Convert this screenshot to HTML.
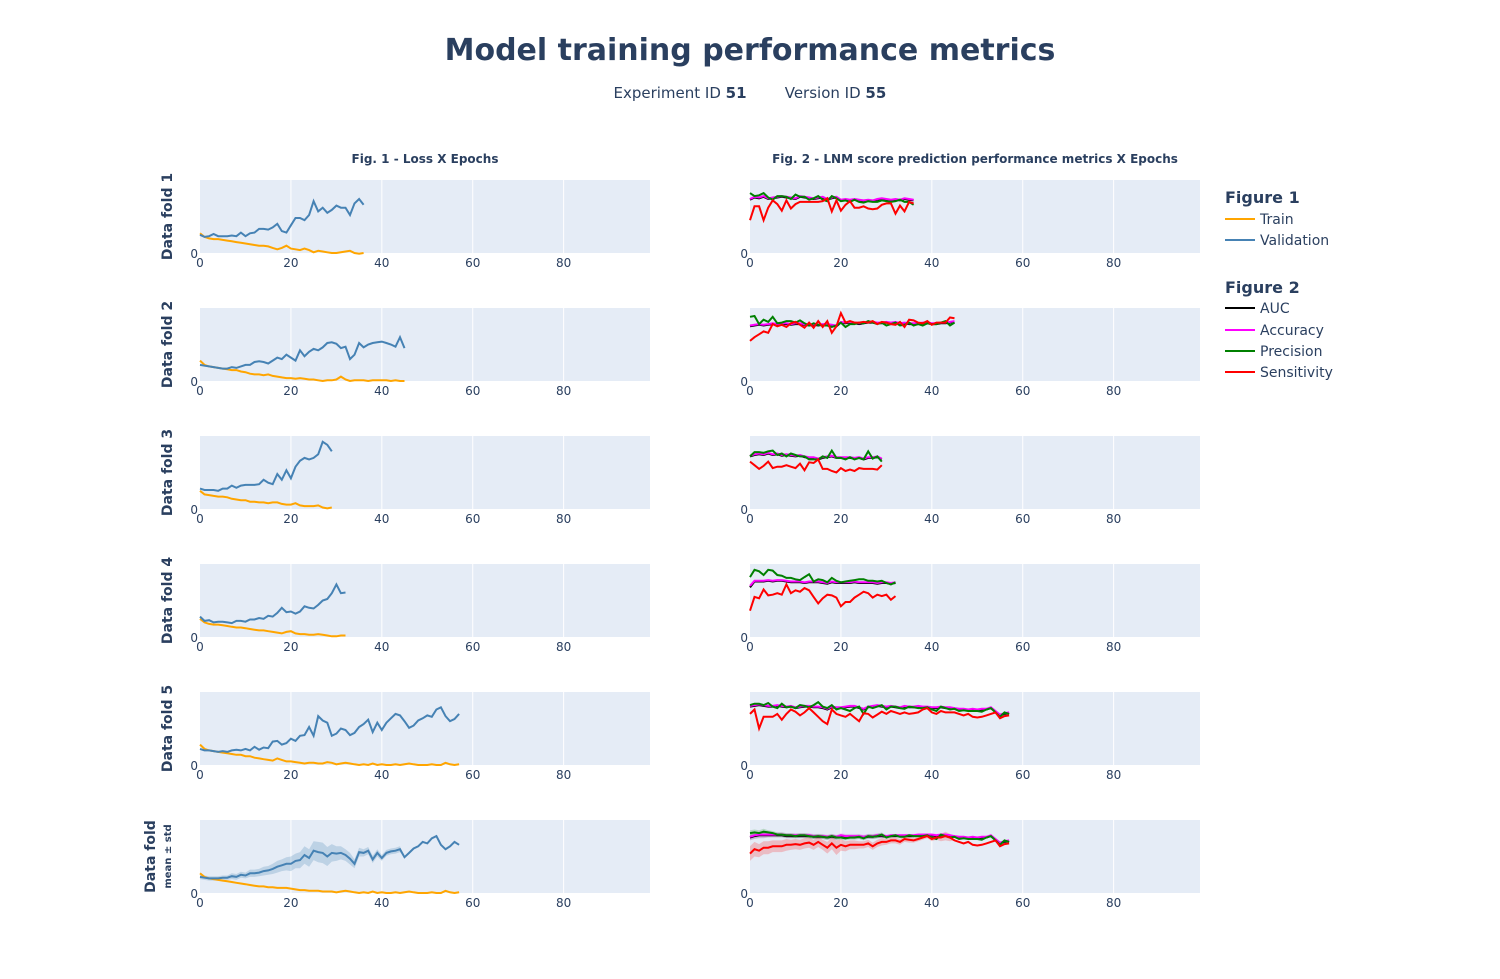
<!DOCTYPE html>
<html><head><meta charset="utf-8"><style>
body{margin:0;background:#fff;font-family:"DejaVu Sans",sans-serif;}
svg text{fill:#2a3f5f;}
</style></head><body>
<svg id="chart" width="1500" height="975" xmlns="http://www.w3.org/2000/svg" font-family="DejaVu Sans, sans-serif">
<text x="750" y="60" text-anchor="middle" font-size="30" font-weight="bold">Model training performance metrics</text>
<text x="680" y="98" text-anchor="middle" font-size="15">Experiment ID <tspan font-weight="bold">51</tspan></text>
<text x="835.5" y="98" text-anchor="middle" font-size="15">Version ID <tspan font-weight="bold">55</tspan></text>
<text x="425" y="163" text-anchor="middle" font-size="12" font-weight="bold">Fig. 1 - Loss X Epochs</text>
<text x="975" y="163" text-anchor="middle" font-size="12" font-weight="bold">Fig. 2 - LNM score prediction performance metrics X Epochs</text>
<g id="plots"></g>
<g font-size="14">
<text x="1225" y="203" font-size="16" font-weight="bold">Figure 1</text>
<line x1="1225" y1="219" x2="1255" y2="219" stroke="#FFA500" stroke-width="2"/><text x="1260" y="224">Train</text>
<line x1="1225" y1="240" x2="1255" y2="240" stroke="#4682B4" stroke-width="2"/><text x="1260" y="245">Validation</text>
<text x="1225" y="293" font-size="16" font-weight="bold">Figure 2</text>
<line x1="1225" y1="308" x2="1255" y2="308" stroke="#000" stroke-width="2"/><text x="1260" y="313">AUC</text>
<line x1="1225" y1="330" x2="1255" y2="330" stroke="#FF00FF" stroke-width="2"/><text x="1260" y="335">Accuracy</text>
<line x1="1225" y1="351" x2="1255" y2="351" stroke="#008000" stroke-width="2"/><text x="1260" y="356">Precision</text>
<line x1="1225" y1="372" x2="1255" y2="372" stroke="#FF0000" stroke-width="2"/><text x="1260" y="377">Sensitivity</text>
</g>
</svg>
<script>
const xTicks=[0,20,40,60,80];
const rowLabels=["Data fold 1","Data fold 2","Data fold 3","Data fold 4","Data fold 5","Data fold"];
const trainLoss=[
[0.27,0.22,0.20,0.19,0.19,0.18,0.17,0.16,0.15,0.14,0.13,0.12,0.11,0.10,0.10,0.09,0.07,0.05,0.07,0.10,0.06,0.05,0.04,0.06,0.04,0.01,0.03,0.02,0.01,0.0,0.0,0.01,0.02,0.03,0.0,-0.01,0.0],
[0.28,0.22,0.20,0.19,0.18,0.17,0.16,0.15,0.15,0.13,0.12,0.10,0.09,0.09,0.08,0.09,0.07,0.06,0.05,0.04,0.04,0.03,0.04,0.03,0.02,0.02,0.01,0.00,0.01,0.01,0.02,0.06,0.02,0.00,0.01,0.01,0.01,0.00,0.01,0.01,0.01,0.01,0.00,0.01,0.00,0.00],
[0.25,0.20,0.19,0.18,0.17,0.17,0.16,0.14,0.13,0.12,0.12,0.10,0.10,0.09,0.09,0.08,0.09,0.09,0.07,0.06,0.06,0.08,0.05,0.04,0.04,0.04,0.05,0.02,0.01,0.02],
[0.25,0.20,0.18,0.17,0.17,0.16,0.15,0.14,0.13,0.13,0.12,0.11,0.10,0.09,0.09,0.08,0.07,0.06,0.05,0.07,0.08,0.05,0.04,0.04,0.03,0.03,0.04,0.03,0.02,0.01,0.01,0.02,0.02],
[0.28,0.22,0.20,0.19,0.18,0.17,0.16,0.15,0.14,0.14,0.12,0.12,0.10,0.09,0.08,0.07,0.06,0.09,0.07,0.05,0.05,0.04,0.03,0.02,0.03,0.03,0.02,0.02,0.04,0.03,0.01,0.02,0.03,0.02,0.01,0.00,0.01,0.00,0.02,0.00,0.01,0.00,0.00,0.01,0.00,0.01,0.02,0.01,0.00,0.00,0.00,0.01,0.00,0.00,0.03,0.01,0.00,0.01],
[0.27,0.22,0.20,0.19,0.18,0.17,0.16,0.15,0.14,0.13,0.12,0.11,0.10,0.09,0.09,0.08,0.08,0.07,0.07,0.07,0.06,0.05,0.04,0.04,0.03,0.03,0.03,0.02,0.02,0.02,0.01,0.02,0.03,0.02,0.01,0.00,0.01,0.00,0.02,0.00,0.01,0.00,0.00,0.01,0.00,0.01,0.02,0.01,0.00,0.00,0.00,0.01,0.00,0.00,0.03,0.01,0.00,0.01]];
const valLoss=[
[0.25,0.22,0.23,0.26,0.23,0.23,0.23,0.24,0.23,0.28,0.23,0.27,0.28,0.33,0.33,0.32,0.35,0.40,0.30,0.28,0.38,0.48,0.48,0.45,0.52,0.71,0.57,0.62,0.55,0.59,0.65,0.62,0.62,0.52,0.68,0.74,0.66],
[0.22,0.21,0.20,0.19,0.18,0.17,0.17,0.19,0.18,0.20,0.22,0.22,0.26,0.27,0.26,0.24,0.28,0.32,0.30,0.36,0.32,0.28,0.42,0.34,0.40,0.44,0.42,0.46,0.52,0.53,0.51,0.45,0.47,0.30,0.36,0.52,0.46,0.50,0.52,0.53,0.54,0.52,0.50,0.47,0.60,0.45],
[0.28,0.26,0.26,0.26,0.25,0.28,0.28,0.32,0.29,0.32,0.33,0.33,0.33,0.34,0.40,0.36,0.34,0.48,0.40,0.53,0.42,0.58,0.66,0.70,0.68,0.70,0.75,0.92,0.88,0.79],
[0.28,0.22,0.23,0.20,0.21,0.21,0.20,0.19,0.22,0.22,0.21,0.24,0.24,0.26,0.25,0.29,0.28,0.33,0.40,0.34,0.35,0.32,0.35,0.42,0.40,0.39,0.44,0.50,0.52,0.60,0.72,0.60,0.61],
[0.22,0.20,0.20,0.19,0.18,0.19,0.18,0.20,0.21,0.20,0.22,0.20,0.25,0.21,0.24,0.23,0.32,0.33,0.28,0.30,0.36,0.33,0.40,0.41,0.52,0.40,0.67,0.61,0.58,0.40,0.43,0.50,0.48,0.41,0.44,0.52,0.56,0.62,0.45,0.58,0.48,0.58,0.64,0.70,0.68,0.60,0.51,0.54,0.61,0.64,0.68,0.66,0.76,0.79,0.67,0.60,0.63,0.70],
[0.22,0.21,0.20,0.20,0.20,0.21,0.21,0.23,0.22,0.25,0.24,0.27,0.27,0.28,0.30,0.31,0.33,0.36,0.38,0.40,0.40,0.44,0.45,0.52,0.48,0.58,0.56,0.55,0.50,0.55,0.54,0.55,0.52,0.47,0.40,0.56,0.55,0.58,0.46,0.55,0.48,0.55,0.57,0.58,0.60,0.49,0.55,0.61,0.64,0.70,0.68,0.75,0.78,0.66,0.60,0.64,0.70,0.66]];
const valStd=[0.03,0.03,0.03,0.03,0.03,0.03,0.03,0.04,0.04,0.04,0.04,0.05,0.05,0.05,0.06,0.06,0.07,0.08,0.08,0.09,0.10,0.10,0.11,0.12,0.12,0.13,0.14,0.14,0.13,0.12,0.10,0.09,0.08,0.08,0.06,0.06,0.05,0.05,0.05,0.05,0.04,0.04,0.04,0.04,0.04,0,0,0,0,0,0,0,0,0,0,0,0,0];
const aucVals=[
[0.73,0.76,0.75,0.77,0.74,0.75,0.76,0.77,0.76,0.75,0.74,0.77,0.76,0.75,0.74,0.75,0.76,0.73,0.75,0.76,0.72,0.73,0.72,0.73,0.72,0.71,0.72,0.71,0.73,0.74,0.73,0.72,0.73,0.72,0.74,0.73,0.72],
[0.75,0.76,0.77,0.76,0.77,0.78,0.77,0.78,0.78,0.77,0.78,0.78,0.77,0.76,0.77,0.76,0.77,0.77,0.76,0.75,0.80,0.79,0.80,0.79,0.78,0.79,0.80,0.80,0.79,0.79,0.80,0.79,0.80,0.78,0.79,0.78,0.78,0.78,0.79,0.79,0.78,0.78,0.79,0.79,0.80,0.81],
[0.72,0.74,0.75,0.74,0.76,0.74,0.75,0.73,0.74,0.73,0.72,0.73,0.71,0.70,0.70,0.68,0.70,0.71,0.72,0.70,0.70,0.70,0.70,0.69,0.70,0.68,0.70,0.70,0.71,0.68],
[0.68,0.76,0.76,0.76,0.77,0.76,0.77,0.77,0.76,0.75,0.75,0.75,0.74,0.75,0.75,0.75,0.74,0.73,0.75,0.74,0.74,0.74,0.74,0.75,0.74,0.74,0.74,0.74,0.73,0.74,0.74,0.73,0.74],
[0.80,0.81,0.82,0.81,0.80,0.80,0.81,0.80,0.79,0.80,0.78,0.79,0.80,0.80,0.79,0.79,0.78,0.76,0.79,0.78,0.78,0.79,0.80,0.80,0.78,0.76,0.79,0.80,0.81,0.80,0.79,0.80,0.79,0.78,0.80,0.79,0.79,0.80,0.79,0.79,0.78,0.78,0.79,0.78,0.78,0.77,0.76,0.76,0.75,0.76,0.75,0.76,0.76,0.78,0.73,0.68,0.70,0.71],
[0.76,0.78,0.79,0.79,0.79,0.79,0.79,0.79,0.78,0.78,0.78,0.78,0.78,0.78,0.77,0.77,0.77,0.76,0.77,0.76,0.78,0.77,0.77,0.77,0.77,0.76,0.77,0.77,0.78,0.78,0.77,0.78,0.78,0.78,0.78,0.78,0.78,0.79,0.79,0.79,0.79,0.78,0.79,0.79,0.78,0.77,0.76,0.76,0.75,0.76,0.75,0.76,0.76,0.78,0.73,0.68,0.70,0.71]];
const accVals=[
[0.74,0.77,0.76,0.78,0.75,0.76,0.77,0.78,0.77,0.76,0.75,0.78,0.77,0.76,0.75,0.76,0.77,0.74,0.76,0.77,0.73,0.74,0.73,0.74,0.73,0.72,0.73,0.72,0.74,0.75,0.74,0.73,0.74,0.73,0.75,0.74,0.73],
[0.76,0.77,0.78,0.77,0.78,0.79,0.78,0.79,0.79,0.78,0.79,0.79,0.78,0.77,0.78,0.77,0.78,0.78,0.77,0.76,0.81,0.80,0.81,0.80,0.79,0.80,0.81,0.81,0.80,0.80,0.81,0.80,0.81,0.79,0.80,0.79,0.79,0.79,0.80,0.80,0.79,0.79,0.80,0.80,0.81,0.82],
[0.73,0.75,0.76,0.75,0.77,0.75,0.76,0.74,0.75,0.74,0.73,0.74,0.72,0.71,0.71,0.69,0.71,0.72,0.73,0.71,0.71,0.71,0.71,0.70,0.71,0.69,0.71,0.71,0.72,0.69],
[0.70,0.77,0.77,0.77,0.78,0.77,0.78,0.78,0.77,0.76,0.76,0.76,0.75,0.76,0.76,0.76,0.75,0.74,0.76,0.75,0.75,0.75,0.75,0.76,0.75,0.75,0.75,0.75,0.74,0.75,0.75,0.74,0.75],
[0.81,0.82,0.83,0.82,0.81,0.81,0.82,0.81,0.80,0.81,0.79,0.80,0.81,0.81,0.80,0.80,0.79,0.77,0.80,0.79,0.79,0.80,0.81,0.81,0.79,0.77,0.80,0.81,0.82,0.81,0.80,0.81,0.80,0.79,0.81,0.80,0.80,0.81,0.80,0.80,0.79,0.79,0.80,0.79,0.79,0.78,0.77,0.77,0.76,0.77,0.76,0.77,0.77,0.79,0.74,0.69,0.71,0.72],
[0.77,0.79,0.80,0.80,0.80,0.80,0.80,0.80,0.79,0.79,0.79,0.79,0.79,0.79,0.78,0.78,0.78,0.77,0.78,0.77,0.79,0.78,0.78,0.78,0.78,0.77,0.78,0.78,0.79,0.79,0.78,0.79,0.79,0.79,0.79,0.79,0.79,0.80,0.80,0.80,0.80,0.79,0.80,0.80,0.79,0.78,0.77,0.77,0.76,0.77,0.76,0.77,0.77,0.79,0.74,0.69,0.71,0.72]];
const precVals=[
[0.82,0.78,0.79,0.82,0.76,0.73,0.78,0.78,0.77,0.74,0.80,0.77,0.77,0.73,0.75,0.78,0.73,0.71,0.78,0.75,0.71,0.72,0.70,0.73,0.70,0.69,0.71,0.70,0.70,0.72,0.71,0.70,0.71,0.73,0.70,0.70,0.66],
[0.88,0.89,0.78,0.84,0.81,0.88,0.79,0.80,0.82,0.82,0.80,0.83,0.79,0.76,0.79,0.77,0.76,0.76,0.74,0.76,0.80,0.74,0.78,0.78,0.80,0.79,0.82,0.80,0.78,0.80,0.76,0.78,0.80,0.76,0.77,0.80,0.76,0.78,0.76,0.79,0.78,0.78,0.80,0.82,0.76,0.80],
[0.72,0.78,0.78,0.77,0.79,0.80,0.74,0.76,0.72,0.76,0.74,0.72,0.72,0.68,0.68,0.68,0.72,0.70,0.80,0.70,0.70,0.68,0.71,0.68,0.70,0.68,0.79,0.69,0.72,0.65],
[0.82,0.92,0.90,0.85,0.92,0.91,0.85,0.84,0.81,0.81,0.79,0.78,0.82,0.86,0.76,0.79,0.78,0.75,0.81,0.77,0.75,0.76,0.77,0.78,0.79,0.79,0.77,0.77,0.76,0.77,0.74,0.72,0.75],
[0.82,0.84,0.84,0.82,0.85,0.80,0.78,0.84,0.79,0.80,0.78,0.82,0.81,0.79,0.82,0.86,0.80,0.78,0.82,0.76,0.78,0.76,0.74,0.78,0.80,0.70,0.80,0.78,0.80,0.82,0.76,0.80,0.80,0.78,0.77,0.80,0.79,0.78,0.78,0.79,0.76,0.74,0.80,0.78,0.76,0.77,0.74,0.75,0.74,0.74,0.74,0.73,0.76,0.78,0.72,0.66,0.72,0.70],
[0.82,0.83,0.82,0.84,0.83,0.82,0.80,0.80,0.79,0.79,0.78,0.79,0.79,0.78,0.77,0.78,0.77,0.76,0.78,0.76,0.76,0.75,0.76,0.76,0.77,0.75,0.78,0.77,0.78,0.80,0.76,0.78,0.79,0.77,0.77,0.79,0.78,0.78,0.78,0.79,0.76,0.74,0.80,0.78,0.76,0.77,0.74,0.75,0.74,0.74,0.74,0.73,0.76,0.78,0.72,0.66,0.72,0.70]];
const sensVals=[
[0.45,0.64,0.64,0.45,0.62,0.72,0.67,0.58,0.72,0.61,0.67,0.70,0.70,0.70,0.70,0.70,0.71,0.75,0.57,0.72,0.58,0.66,0.71,0.62,0.62,0.64,0.61,0.60,0.61,0.66,0.68,0.68,0.54,0.65,0.57,0.70,0.68],
[0.55,0.60,0.64,0.68,0.66,0.78,0.75,0.77,0.74,0.79,0.81,0.77,0.73,0.80,0.73,0.82,0.74,0.82,0.66,0.75,0.93,0.80,0.82,0.80,0.80,0.81,0.80,0.82,0.78,0.81,0.80,0.78,0.77,0.81,0.74,0.84,0.83,0.80,0.79,0.82,0.77,0.80,0.80,0.80,0.87,0.86],
[0.65,0.60,0.55,0.59,0.65,0.56,0.58,0.58,0.60,0.58,0.56,0.62,0.53,0.64,0.63,0.68,0.55,0.55,0.52,0.50,0.56,0.52,0.54,0.52,0.56,0.55,0.55,0.55,0.54,0.60],
[0.36,0.55,0.53,0.65,0.57,0.58,0.60,0.58,0.72,0.60,0.64,0.62,0.67,0.64,0.55,0.46,0.53,0.58,0.57,0.54,0.42,0.48,0.48,0.54,0.58,0.62,0.60,0.54,0.58,0.56,0.58,0.51,0.56],
[0.70,0.76,0.50,0.66,0.66,0.66,0.70,0.62,0.70,0.76,0.73,0.68,0.72,0.78,0.72,0.66,0.60,0.56,0.76,0.70,0.68,0.66,0.70,0.65,0.60,0.71,0.70,0.65,0.69,0.73,0.70,0.74,0.72,0.70,0.72,0.70,0.71,0.72,0.76,0.78,0.72,0.70,0.74,0.72,0.72,0.72,0.70,0.68,0.70,0.66,0.65,0.66,0.68,0.70,0.72,0.64,0.67,0.68],
[0.54,0.60,0.58,0.62,0.62,0.64,0.64,0.64,0.66,0.66,0.67,0.66,0.68,0.69,0.66,0.70,0.66,0.62,0.68,0.62,0.66,0.64,0.66,0.66,0.66,0.66,0.68,0.64,0.68,0.70,0.70,0.72,0.72,0.70,0.74,0.73,0.72,0.74,0.76,0.78,0.74,0.76,0.76,0.78,0.76,0.72,0.70,0.68,0.70,0.66,0.65,0.66,0.68,0.70,0.72,0.64,0.67,0.68]];
const metricStd=[0.04,0.04,0.04,0.04,0.03,0.03,0.03,0.03,0.03,0.03,0.03,0.03,0.03,0.03,0.03,0.03,0.03,0.03,0.03,0.03,0.03,0.03,0.03,0.03,0.03,0.03,0.03,0.03,0.03,0.03,0.02,0.02,0.02,0.02,0.02,0.02,0.02,0.02,0.02,0.02,0.02,0.02,0.02,0.02,0.02,0,0,0,0,0,0,0,0,0,0,0,0,0];
const sensStd=[0.1,0.1,0.09,0.09,0.09,0.08,0.08,0.08,0.08,0.07,0.07,0.07,0.07,0.07,0.07,0.07,0.07,0.08,0.08,0.1,0.08,0.07,0.06,0.06,0.05,0.05,0.05,0.05,0.05,0.05,0.04,0.04,0.04,0.04,0.04,0.04,0.03,0.03,0.03,0.03,0.03,0.03,0.05,0.06,0.05,0,0,0,0,0,0,0,0,0,0,0,0,0];

const NS="http://www.w3.org/2000/svg";
const root=document.getElementById('plots');
const PW=450,PH=73,XMAX=99;
const lefts=[200,750];
const tops=[180,308,436,564,692,820];
function el(tag,attrs,parent){const e=document.createElementNS(NS,tag);for(const k in attrs)e.setAttribute(k,attrs[k]);(parent||root).appendChild(e);return e;}
function xs(x0,v){return x0+v/XMAX*PW;}
function ys(y0,v){return y0+PH-v*PH;}
function linePath(x0,y0,arr){return arr.map((v,i)=>(i?'L':'M')+xs(x0,i).toFixed(1)+','+ys(y0,v).toFixed(1)).join('');}
function bandPath(x0,y0,arr,sd){const up=arr.map((v,i)=>xs(x0,i).toFixed(1)+','+ys(y0,v+sd[i]).toFixed(1));const dn=arr.map((v,i)=>xs(x0,i).toFixed(1)+','+ys(y0,v-sd[i]).toFixed(1)).reverse();return 'M'+up.join('L')+'L'+dn.join('L')+'Z';}
for(let r=0;r<6;r++){
  const y0=tops[r];
  const lx=172,ly=y0+PH/2;
  if(r<5){const t=el('text',{x:lx,y:ly,'text-anchor':'middle','font-size':14,'font-weight':'bold',transform:`rotate(-90 ${lx} ${ly})`});
    
    
    t.textContent=rowLabels[r];}
  else{const t=el('text',{x:lx-17,y:ly,'text-anchor':'middle','font-size':14,'font-weight':'bold',transform:`rotate(-90 ${lx-17} ${ly})`});
    
    
    t.textContent=rowLabels[r];
    const t2=el('text',{x:lx-1,y:ly,'text-anchor':'middle','font-size':10,'font-weight':'bold',transform:`rotate(-90 ${lx-1} ${ly})`});
    
    
    t2.textContent='mean ± std';}
  for(let c=0;c<2;c++){
    const x0=lefts[c];
    const g=el('g',{});
    
    
    el('rect',{x:x0,y:y0,width:PW,height:PH,fill:'#E5ECF6'},g);
    xTicks.forEach(t=>{const X=xs(x0,t);
      if(t>0)el('line',{x1:X,y1:y0,x2:X,y2:y0+PH,stroke:'#fff','stroke-width':1},g);
      const tl=el('text',{x:X,y:y0+PH+14,'text-anchor':'middle','font-size':12},g);
      
      
      tl.textContent=t;});
    const yl=el('text',{x:x0-2,y:y0+PH+5,'text-anchor':'end','font-size':12},g);
    
    
    yl.textContent='0';
    if(c==0){
      if(r==5){const b=el('path',{d:bandPath(x0,y0,valLoss[r],valStd),fill:'rgba(70,130,180,0.25)',stroke:'none'},g);
        
        }
      const p1=el('path',{d:linePath(x0,y0,trainLoss[r]),fill:'none',stroke:'#FFA500','stroke-width':2},g);
      
      
      const p2=el('path',{d:linePath(x0,y0,valLoss[r]),fill:'none',stroke:'#4682B4','stroke-width':2},g);
      
      
    }else{
      const series=[[aucVals,'#000','auc',metricStd,'rgba(0,0,0,0.15)'],[accVals,'#FF00FF','accuracy',metricStd,'rgba(255,0,255,0.15)'],[precVals,'#008000','precision',metricStd,'rgba(0,128,0,0.2)'],[sensVals,'#FF0000','sensitivity',sensStd,'rgba(255,0,0,0.2)']];
      if(r==5)series.forEach(s=>{const b=el('path',{d:bandPath(x0,y0,s[0][r],s[3]),fill:s[4],stroke:'none'},g);
        
        });
      series.forEach(s=>{const p=el('path',{d:linePath(x0,y0,s[0][r]),fill:'none',stroke:s[1],'stroke-width':2},g);
        
        });
    }
  }
}
</script>
</body></html>
